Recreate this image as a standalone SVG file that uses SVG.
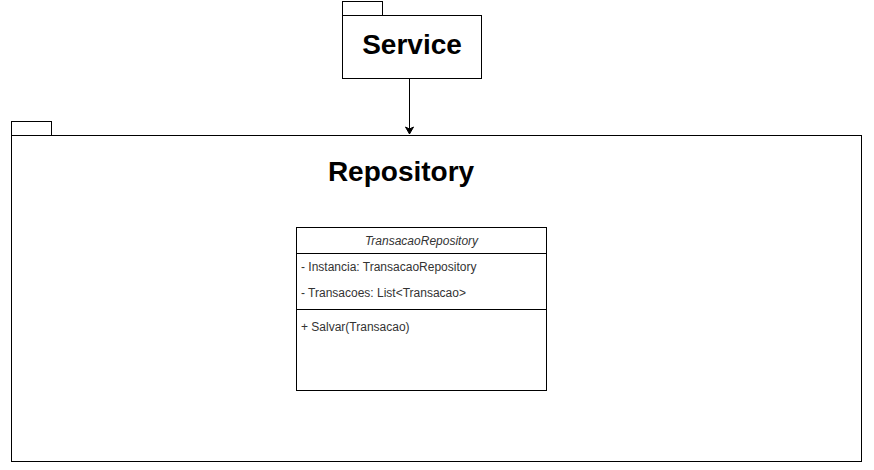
<svg xmlns="http://www.w3.org/2000/svg" width="874" height="470" viewBox="0 0 874 470">
<style>
.s{fill:#fff;stroke:#000;stroke-width:1}
.t{font-family:"Liberation Sans",Arial,sans-serif;fill:#000}
.big{font-size:28px;font-weight:bold;text-anchor:middle}
.sm{font-size:12px;fill:#333}
</style>
<defs>
<marker id="ah" markerWidth="10" markerHeight="10" refX="8" refY="5" orient="auto" markerUnits="userSpaceOnUse">
<path d="M1,1 L8,5 L1,9 L3,5 Z" fill="#000" stroke="#000" stroke-width="1"/>
</marker>
</defs>
<rect width="874" height="470" fill="#fff"/>
<g id="repository">
<rect class="s" x="11.5" y="121.5" width="40" height="14"/>
<rect class="s" x="11.5" y="135.5" width="850" height="326"/>
<text class="t big" x="401" y="181">Repository</text>
</g>
<g id="service">
<rect class="s" x="342.5" y="1.5" width="40" height="14"/>
<rect class="s" x="342.5" y="15.5" width="139" height="63"/>
<text class="t big" x="412" y="54">Service</text>
</g>
<g id="transacaoRepository">
<rect class="s" x="296.5" y="227.5" width="250" height="163"/>
<line x1="296.5" y1="253.5" x2="546.5" y2="253.5" stroke="#000"/>
<line x1="296.5" y1="309.5" x2="546.5" y2="309.5" stroke="#000"/>
<text class="t sm" x="421.5" y="245" text-anchor="middle" font-style="italic">TransacaoRepository</text>
<text class="t sm" x="301" y="271">- Instancia: TransacaoRepository</text>
<text class="t sm" x="301" y="297">- Transacoes: List&lt;Transacao&gt;</text>
<text class="t sm" x="301" y="331">+ Salvar(Transacao)</text>
</g>
<g id="connectors">
<line x1="409.5" y1="78.5" x2="409.5" y2="134" stroke="#000" marker-end="url(#ah)"/>
</g>
</svg>
